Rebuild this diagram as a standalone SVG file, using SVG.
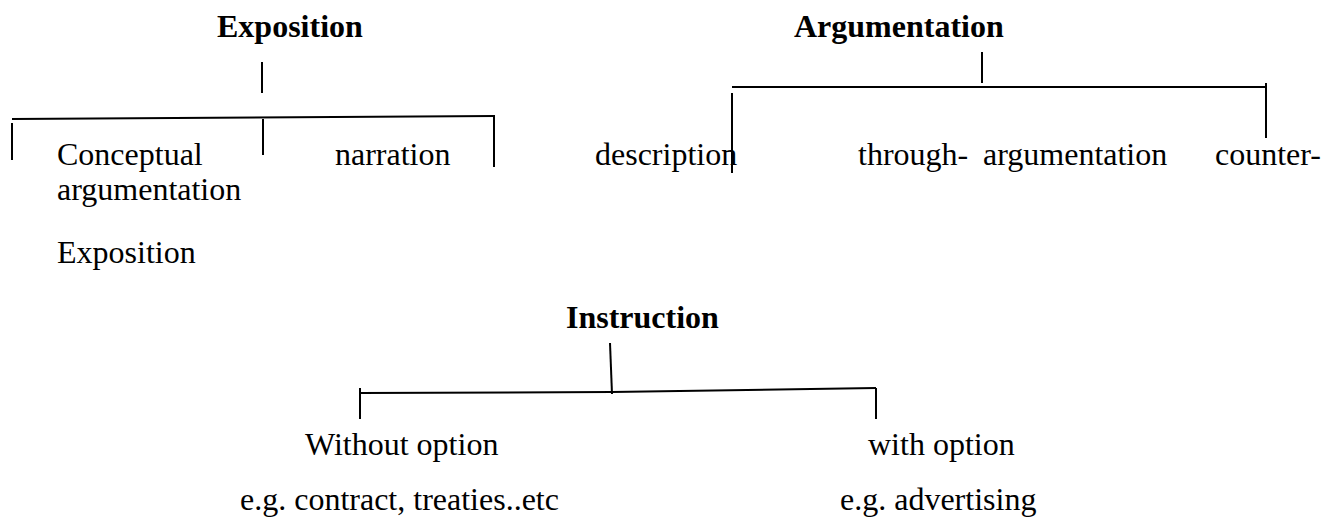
<svg xmlns="http://www.w3.org/2000/svg" width="1336" height="525" viewBox="0 0 1336 525">
  <style>
    .t { font-family: "Liberation Serif", "Times New Roman", serif; font-size: 32px; fill: #000; }
    .h { font-weight: bold; }
    .ln { stroke: #000; stroke-width: 2; fill: none; stroke-linecap: butt; }
  </style>
  <rect width="1336" height="525" fill="#fff"/>

  <!-- Exposition tree -->
  <g id="exposition">
    <text class="t h" x="217" y="37">Exposition</text>
  </g>
  <g id="conceptual-argumentation">
    <text class="t" x="57" y="165">Conceptual</text>
    <text class="t" x="57" y="200">argumentation</text>
  </g>
  <g id="exposition-sub">
    <text class="t" x="57" y="263">Exposition</text>
  </g>
  <g id="narration">
    <text class="t" x="335" y="165">narration</text>
  </g>

  <!-- Argumentation tree -->
  <g id="argumentation">
    <text class="t h" x="794" y="37">Argumentation</text>
  </g>
  <g id="description">
    <text class="t" x="595" y="165">description</text>
  </g>
  <g id="through-argumentation">
    <text class="t" x="858" y="165">through-</text>
    <text class="t" x="983" y="165">argumentation</text>
  </g>
  <g id="counter">
    <text class="t" x="1215" y="165">counter-</text>
  </g>

  <!-- Instruction tree -->
  <g id="instruction">
    <text class="t h" x="566" y="328">Instruction</text>
  </g>
  <g id="without-option">
    <text class="t" x="305" y="455">Without option</text>
    <text class="t" x="240" y="510">e.g. contract, treaties..etc</text>
  </g>
  <g id="with-option">
    <text class="t" x="868" y="455">with option</text>
    <text class="t" x="840" y="510">e.g. advertising</text>
  </g>

  <!-- connectors -->
  <g id="connectors" class="ln">
    <!-- Exposition -->
    <line x1="262" y1="62" x2="262" y2="93"/>
    <line x1="12" y1="119" x2="495" y2="116"/>
    <line x1="12" y1="123" x2="12" y2="160"/>
    <line x1="263" y1="119" x2="263" y2="155"/>
    <line x1="494" y1="116" x2="494" y2="167"/>
    <!-- Argumentation -->
    <line x1="982" y1="52" x2="982" y2="83"/>
    <line x1="732" y1="87" x2="1267" y2="87"/>
    <line x1="732" y1="93" x2="732" y2="173"/>
    <line x1="1266" y1="83" x2="1266" y2="138"/>
    <!-- Instruction -->
    <line x1="610" y1="343" x2="612" y2="394"/>
    <polyline points="360,393 612,392 876,388"/>
    <line x1="360" y1="388" x2="360" y2="419"/>
    <line x1="876" y1="388" x2="876" y2="419"/>
  </g>
</svg>
